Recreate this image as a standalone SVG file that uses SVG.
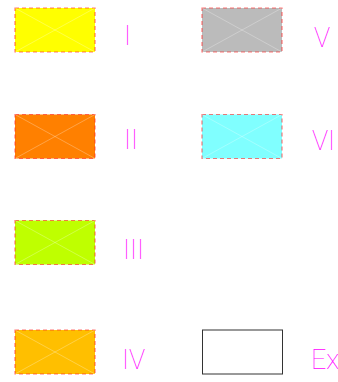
<svg xmlns="http://www.w3.org/2000/svg" width="338" height="382" viewBox="0 0 338 382">
<style>
.b{stroke:#ff2020;stroke-opacity:0.6;stroke-width:1.2;stroke-dasharray:4 3}
.x{stroke:#ffffff;stroke-opacity:0.35;stroke-width:0.8;fill:none}
.t{font-family:Roboto,"DejaVu Sans",sans-serif;font-weight:100;font-size:27px;fill:#ff00ff}
</style>
<defs>
<g id="cross"><path class="x" d="M0,0L80,44M80,0L0,44"/></g>
</defs>
<g id="node-I">
<rect x="15" y="8" width="80" height="44" fill="#ffff00" class="b"/>
<use href="#cross" x="15" y="8"/>
<text class="t" x="124" y="45">I</text>
</g>
<g id="node-II">
<rect x="15" y="114.5" width="80" height="44" fill="#ff8000" class="b"/>
<use href="#cross" x="15" y="114.5"/>
<text class="t" x="124" y="148.5">II</text>
</g>
<g id="node-III">
<rect x="15" y="220.5" width="80" height="44" fill="#bfff00" class="b"/>
<use href="#cross" x="15" y="220.5"/>
<text class="t" x="123" y="258.5">III</text>
</g>
<g id="node-IV">
<rect x="15" y="330" width="80" height="44" fill="#ffbf00" class="b"/>
<use href="#cross" x="15" y="330"/>
<text class="t" x="122" y="368.5">IV</text>
</g>
<g id="node-V">
<rect x="202" y="8" width="80" height="44" fill="#bbbbbb" class="b"/>
<use href="#cross" x="202" y="8"/>
<text class="t" x="314" y="46.5">V</text>
</g>
<g id="node-VI">
<rect x="202" y="114.5" width="80" height="44" fill="#80ffff" class="b"/>
<use href="#cross" x="202" y="114.5"/>
<text class="t" x="312" y="150">VI</text>
</g>
<g id="node-Ex">
<rect x="202.5" y="330" width="80" height="44" fill="none" stroke="#333333" stroke-width="1"/>
<text class="t" x="311" y="369">Ex</text>
</g>
<g id="connectors"/>
</svg>
